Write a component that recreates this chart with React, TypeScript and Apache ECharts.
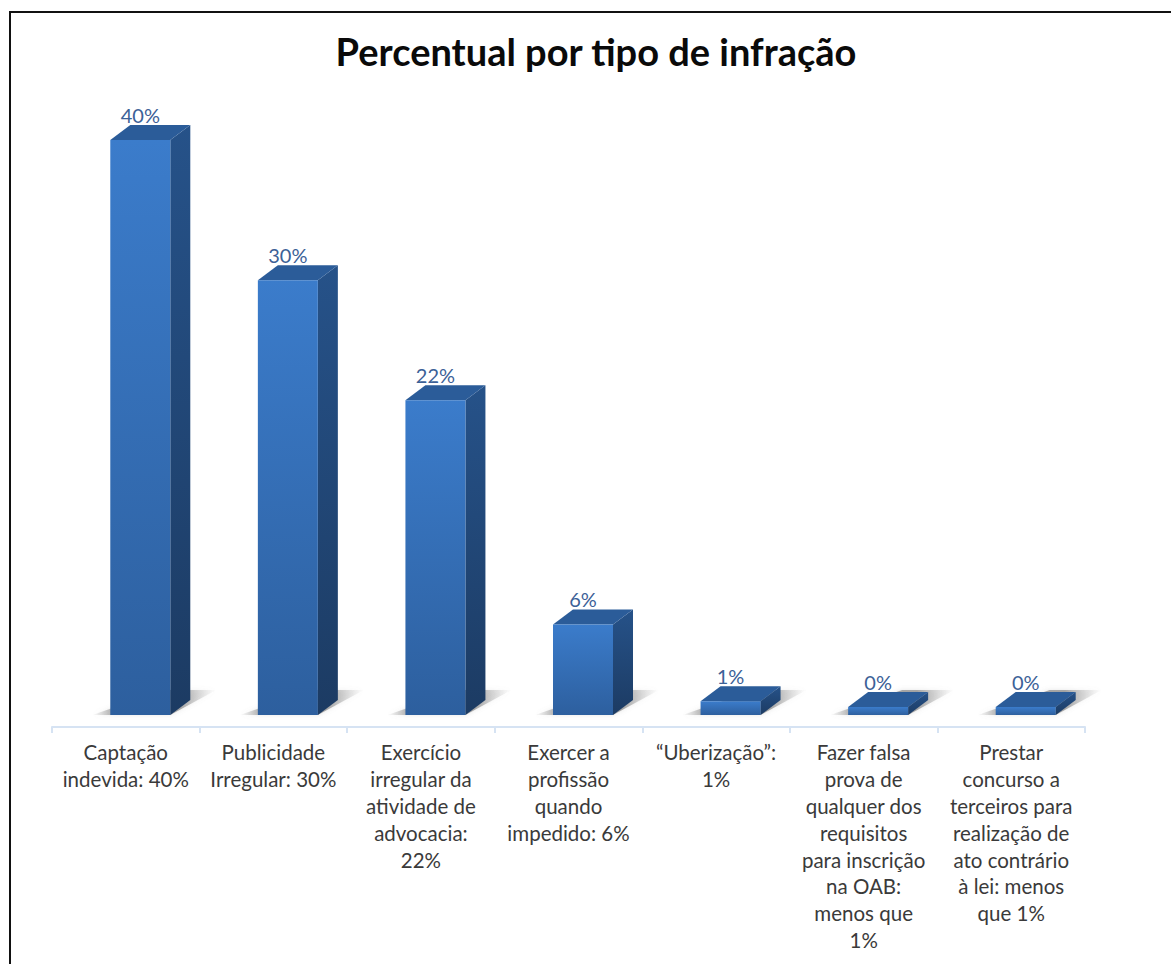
import React, { useEffect, useRef } from "react";
import * as echarts from "echarts";

const categories = [
  "Captação\nindevida: 40%",
  "Publicidade\nIrregular: 30%",
  "Exercício\nirregular da\natividade de\nadvocacia:\n22%",
  "Exercer a\nprofissão\nquando\nimpedido: 6%",
  "“Uberização”:\n1%",
  "Fazer falsa\nprova de\nqualquer dos\nrequisitos\npara inscrição\nna OAB:\nmenos que\n1%",
  "Prestar\nconcurso a\nterceiros para\nrealização de\nato contrário\nà lei: menos\nque 1%",
];
const values = [40, 30.25, 21.9, 6.3, 0.95, 0.55, 0.55];
const dataLabels = ["40%", "30%", "22%", "6%", "1%", "0%", "0%"];
const titleText = "Percentual por tipo de infração";
const FONT = "Lato";

function grad(x2: number, y2: number, stops: [number, string][]) {
  return new echarts.graphic.LinearGradient(0, 0, x2, y2, stops.map(([offset, color]) => ({ offset, color })));
}

export default function App() {
  const ref = useRef<HTMLDivElement>(null);
  useEffect(() => {
    if (!ref.current) return;
    const chart = echarts.init(ref.current, undefined, { renderer: "svg" });
    const OFFSET = 14.5, W = 60, DX = 20, DY = 15;
    chart.setOption({
      animation: false,
      backgroundColor: "#ffffff",
      title: {
        text: titleText,
        left: 591,
        top: 27,
        textAlign: "center",
        textStyle: { fontFamily: FONT, fontWeight: "bold", fontSize: 38, color: "#0a0a0a" },
      },
      grid: { left: 52, right: 86, top: 140, bottom: 249 },
      xAxis: {
        type: "category",
        data: categories,
        offset: 12,
        axisLine: { onZero: false, lineStyle: { color: "#d6e3f3", width: 2 } },
        axisTick: { show: true, alignWithLabel: false, length: 6, lineStyle: { color: "#d6e3f3", width: 2 } },
        axisLabel: {
          interval: 0,
          margin: 12,
          fontFamily: FONT,
          fontSize: 20.5,
          lineHeight: 26.8,
          color: "#3a3a3a",
          align: "center",
          verticalAlign: "top",
        },
      },
      yAxis: { type: "value", min: 0, max: 40, show: false, splitLine: { show: false } },
      series: [
        {
          type: "custom",
          z: 1,
          clip: false,
          data: values.map((v, i) => [i, v]),
          encode: { x: 0, y: 1 },
          renderItem: (_p: any, api: any) => {
            const base = api.coord([api.value(0), 0]);
            const x = base[0] + OFFSET - W / 2;
            const y = base[1];
            return {
              type: "polygon",
              shape: { points: [[x - 18, y], [x + W, y], [x + W + 46, y - 25], [x + W - 6, y - 25]] },
              style: {
                fill: grad(1, 0, [
                  [0, "rgba(120,120,120,0)"],
                  [0.18, "rgba(110,110,110,0.55)"],
                  [0.7, "rgba(100,100,100,0.55)"],
                  [1, "rgba(150,150,150,0)"],
                ]),
                shadowBlur: 5,
                shadowColor: "rgba(140,140,140,0.4)",
              },
            };
          },
        },
        {
          type: "custom",
          z: 2,
          clip: false,
          data: values.map((v, i) => [i, v]),
          encode: { x: 0, y: 1 },
          renderItem: (p: any, api: any) => {
            const base = api.coord([api.value(0), 0]);
            const top = api.coord([api.value(0), api.value(1)]);
            const x = base[0] + OFFSET - W / 2;
            const y0 = base[1];
            const y1 = top[1];
            return {
              type: "group",
              children: [
                {
                  type: "polygon",
                  shape: { points: [[x + W, y1], [x + W + DX, y1 - DY], [x + W + DX, y0 - DY], [x + W, y0]] },
                  style: { fill: grad(0, 1, [[0, "#265289"], [1, "#1c3b63"]]) },
                },
                {
                  type: "polygon",
                  shape: { points: [[x, y1], [x + DX, y1 - DY], [x + W + DX, y1 - DY], [x + W, y1]] },
                  style: { fill: "#2b5c99" },
                },
                {
                  type: "rect",
                  shape: { x, y: y1, width: W, height: y0 - y1 },
                  style: { fill: grad(0, 1, [[0, "#3b7ccb"], [1, "#2d5f9e"]]) },
                },
                {
                  type: "text",
                  x: x + W / 2,
                  y: y1 - 25,
                  style: {
                    text: dataLabels[p.dataIndex],
                    fontFamily: FONT,
                    fontSize: 20,
                    fill: "#3c6197",
                    align: "center",
                    verticalAlign: "middle",
                  },
                },
              ],
            };
          },
        },
      ],
      graphic: [
        {
          type: "polyline",
          silent: true,
          shape: { points: [[10, 964], [10, 12], [1171, 12]] },
          style: { fill: "none", stroke: "#111111", lineWidth: 2 },
        },
      ],
    });
    return () => chart.dispose();
  }, []);
  return <div ref={ref} style={{ position: "fixed", left: 0, top: 0, width: 1171, height: 964 }} />;
}
